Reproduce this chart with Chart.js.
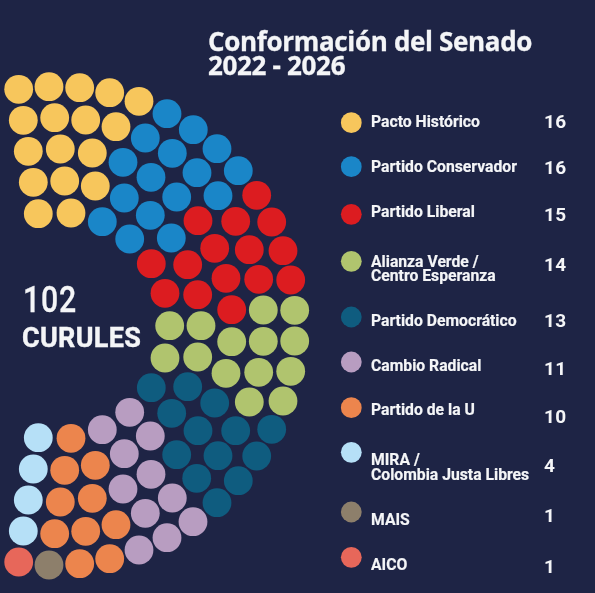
<!DOCTYPE html>
<html lang="es">
<head>
<meta charset="utf-8">
<title>Conformación del Senado 2022 - 2026</title>
<script src="https://cdn.jsdelivr.net/npm/chart.js@4"></script>
<style>
html,body{margin:0;padding:0;background:#1e2445;}
#wrap{position:relative;width:595px;height:593px;overflow:hidden;background:#1e2445;}
canvas{position:absolute;left:0;top:0;}
.t{position:absolute;color:#f4f5f7;white-space:nowrap;transform-origin:0 50%;line-height:1;}
.title{font-family:"Open Sans",sans-serif;font-weight:700;font-size:26px;letter-spacing:-.33px;-webkit-text-stroke:.3px #f4f5f7;}
.name{font-family:Roboto,sans-serif;font-weight:700;font-size:17px;left:371px;transform:translateY(-50%) scaleX(.925);-webkit-text-stroke:.2px #f4f5f7;}
.count{font-family:Roboto,sans-serif;font-weight:700;font-size:19px;left:544px;letter-spacing:.4px;transform:translateY(-50%);}
</style>
</head>
<body>
<div id="wrap"><canvas id="c" width="595" height="593"></canvas></div>
<script>
const titleLines = ["Conformación del Senado", "2022 - 2026"];
const totalSeats = "102";
const totalLabel = "CURULES";
const parties = ["Pacto Histórico","Partido Conservador","Partido Liberal","Alianza Verde /\nCentro Esperanza","Partido Democrático","Cambio Radical","Partido de la U","MIRA /\nColombia Justa Libres","MAIS","AICO"];
const counts = [16,16,15,14,13,11,10,4,1,1];
const colors = ["#f7c65c","#1a86c8","#dc1c20","#b0c46e","#0f5c7f","#b89dc1","#ec854d","#b6e0f7","#8d7f6b","#e7675a"];

const pacto = [[18.7,89.3],[49,86.7],[79.7,87.7],[109.7,92.7],[139,101.3],[23.3,120.3],[54.7,117.7],[85.7,120],[116,126.7],[28.3,151.3],[60.3,149],[92.3,153],[33.3,182.3],[64.7,181],[95.3,186],[38.3,213.7],[71,213]];
const conservador = [[167,113.7],[193.3,129.7],[217,148.7],[238.3,170.7],[145.3,138],[172.3,153.3],[197,172.7],[218,195.7],[123,162.3],[151,177.3],[176.7,197],[124.3,198],[150.3,215.3],[102.3,221.7],[129.7,239],[171.3,238]];
const liberal = [[256.7,195.3],[198,220.7],[235.7,221.3],[271.7,222],[214.7,248.3],[249.3,249.7],[283,250.7],[151.3,263.7],[187.7,264.7],[226,278.3],[258.7,279.3],[290.7,280],[165,293.3],[197.7,294.7],[231.7,309.7]];
const verde = [[263.3,310],[294.7,310.3],[169.7,325.7],[201,325.7],[231.7,341.7],[263.3,341.3],[294.7,341],[165,358],[197.7,357],[226,373.3],[258.7,372.3],[290.7,371.3],[249.3,402],[283,401]];
const democratico = [[151.3,387.7],[187.7,386.7],[214.7,403],[171.7,413.3],[198,430.7],[235.7,430.7],[271.7,429.3],[176.7,454.7],[218,455.7],[256.7,456],[196.7,478.3],[238.3,480.7],[217,502.7]];
const cambio = [[129.7,412.3],[102.3,429.7],[150.3,436],[124.3,453.7],[151,474.3],[123,489],[172.3,498],[145.3,513.3],[193,521.7],[167,537.7],[139,550]];
const laU = [[71,438.3],[64.7,470.3],[95.3,465.3],[60.3,502],[92.3,498.3],[54.7,533.7],[85.7,531.3],[116,524.7],[79.7,563.7],[109.7,558.7]];
const mira = [[38.3,437.7],[33.3,469],[28.3,500],[23.3,531]];
const mais = [[49,565]];
const aico = [[18.7,562]];
const seats = [pacto,conservador,liberal,verde,democratico,cambio,laU,mira,mais,aico];

const keyX = 351.3;
const keyY = [122.7,166.7,214.3,261.3,317,362,407.7,452.3,512,557.3];

const nameY = [[121.2],[166.2],[211.2],[260.5,274.5],[319.5],[364.5],[409.2],[458.8,473.8],[518.5],[563.5]];
const countY = [120.5,166.8,213.5,263.8,319.5,367.8,416.2,464.5,514.5,566.2];

const datasets = seats.map((s,i)=>({
  label: parties[i].replace("\n"," "),
  data: s.map(p=>({x:p[0],y:p[1]})),
  backgroundColor: colors[i],
  pointRadius: 14.4,
  pointBorderWidth: 0,
  showLine: false,
  clip: false
}));
datasets.push({
  label: "Leyenda",
  data: keyY.map(y=>({x:keyX,y})),
  backgroundColor: colors,
  pointRadius: 10.4,
  pointBorderWidth: 0,
  showLine: false,
  clip: false
});

new Chart(document.getElementById("c"),{
  type:"scatter",
  data:{datasets},
  options:{
    responsive:false,
    animation:false,
    devicePixelRatio:1,
    layout:{padding:0,autoPadding:false},
    events:[],
    plugins:{legend:{display:false},title:{display:false},tooltip:{enabled:false}},
    scales:{
      x:{type:"linear",min:0,max:595,display:false},
      y:{type:"linear",min:0,max:593,reverse:true,display:false}
    }
  }
});

const wrap = document.getElementById("wrap");
function addText(str,cls,css){
  const d=document.createElement("div");
  d.className="t "+cls;
  d.textContent=str;
  Object.assign(d.style,css||{});
  wrap.appendChild(d);
}
addText(titleLines[0],"title",{left:"208px",top:"28px"});
addText(titleLines[1],"title",{left:"208px",top:"52px"});
addText(totalSeats,"",{left:"23px",top:"300px",transform:"translateY(-50%) scaleX(.84)",fontFamily:"Roboto,sans-serif",fontWeight:"500",fontSize:"36px",letterSpacing:"1px",webkitTextStroke:".3px #f4f5f7"});
addText(totalLabel,"",{left:"22px",top:"338px",transform:"translateY(-50%)",fontFamily:"Roboto,sans-serif",fontWeight:"700",fontSize:"27px",letterSpacing:".3px",webkitTextStroke:".4px #f4f5f7"});
parties.forEach((p,i)=>{
  p.split("\n").forEach((line,j)=>addText(line,"name",{top:nameY[i][j]+"px"}));
  addText(String(counts[i]),"count",{top:countY[i]+"px"});
});
</script>
</body>
</html>
